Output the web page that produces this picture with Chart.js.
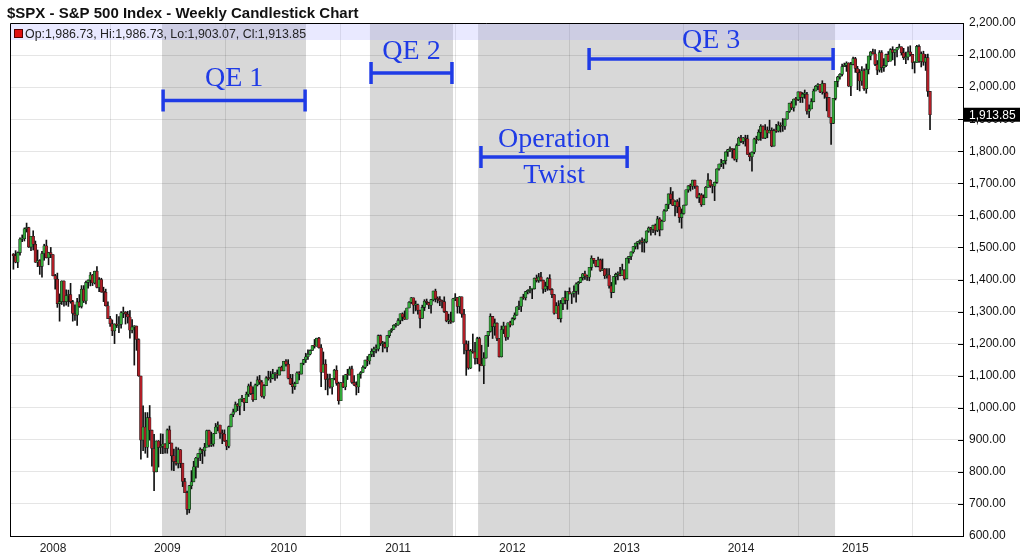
<!DOCTYPE html>
<html>
<head>
<meta charset="utf-8">
<script src="https://cdn.jsdelivr.net/npm/chart.js@4.4.1/dist/chart.umd.min.js"></script>
<style>
    html, body { margin: 0; padding: 0; background: #fff; }
    #contenedor { width: 1024px; height: 559px; position: relative; }
</style>
</head>
<body>
<div id="contenedor"><canvas id="chartSpx"></canvas></div>
<script>
// velas semanales $SPX, primera semana 2007-08-31, ultima 2015-08-28
const primeraApertura = 1479;

const cierres2007 = [1474,1454,1484,1526,1527,1558,1562,1501,1535,1510,1454,1459,1441,1481,1505,1468,1484,1478];
const maximos2007 = [1481,1490,1486,1530,1539,1561,1576,1563,1535,1552,1520,1492,1462,1488,1510,1523,1485,1500];
const minimos2007 = [1432,1452,1437,1476,1518,1520,1548,1500,1490,1492,1453,1440,1416,1407,1460,1467,1446,1468];

const cierres2008 = [1412,1401,1325,1331,1395,1331,1350,1353,1331,1294,1289,1330,1316,1370,1333,1391,1398,1414,1389,1426,1375,1400,1361,1360,1318,1278,1262,1240,1261,1257,1260,1296,1298,1292,1283,1242,1252,1255,1213,1099,899,940,877,969,930,873,800,896,876,880,887,873];
const maximos2008 = [1478,1416,1420,1355,1396,1396,1368,1367,1388,1335,1321,1341,1353,1381,1381,1395,1399,1422,1416,1426,1440,1406,1404,1376,1370,1330,1285,1274,1262,1291,1284,1300,1314,1300,1301,1303,1275,1256,1255,1215,1098,1006,985,985,1007,920,917,897,898,919,918,888];
const minimos2008 = [1411,1370,1313,1270,1322,1317,1320,1316,1326,1270,1272,1257,1313,1311,1328,1324,1373,1380,1381,1386,1374,1362,1360,1331,1317,1278,1254,1225,1200,1250,1234,1248,1281,1261,1264,1217,1233,1133,1179,1098,840,866,858,845,899,818,741,801,815,857,857,858];

const cierres2009 = [931,890,850,832,826,869,827,770,735,683,757,769,816,843,857,870,866,877,929,883,887,919,940,946,921,918,896,880,941,979,987,1010,1005,1027,1029,1016,1042,1068,1044,1025,1071,1087,1080,1036,1069,1093,1091,1092,1106,1106,1102,1126,1115];
const maximos2009 = [934,943,890,871,877,875,870,827,780,740,758,804,833,845,857,875,871,889,930,930,924,920,951,956,946,931,931,898,943,980,996,1018,1013,1027,1039,1028,1049,1074,1080,1065,1074,1097,1101,1085,1072,1097,1114,1113,1120,1110,1118,1127,1130];
const minimos2009 = [858,888,805,804,821,812,813,754,735,667,672,747,769,780,814,835,826,849,878,878,879,880,920,928,904,888,895,869,875,940,972,987,991,978,1019,991,1017,1035,1041,1020,1026,1068,1073,1033,1029,1069,1086,1079,1090,1085,1092,1105,1115];

const cierres2010 = [1145,1136,1092,1074,1066,1075,1109,1105,1139,1150,1159,1167,1179,1194,1192,1217,1187,1111,1136,1088,1089,1065,1092,1117,1076,1022,1078,1065,1103,1102,1121,1079,1071,1065,1105,1110,1126,1149,1146,1166,1176,1183,1183,1225,1200,1200,1189,1225,1240,1244,1257,1258];
const maximos2010 = [1145,1150,1150,1104,1104,1080,1112,1113,1139,1151,1170,1181,1181,1194,1213,1217,1220,1197,1174,1150,1105,1105,1092,1120,1131,1080,1079,1100,1104,1120,1128,1130,1100,1081,1105,1113,1131,1149,1160,1167,1184,1189,1196,1227,1227,1207,1205,1225,1240,1247,1259,1263];
const minimos2010 = [1116,1130,1090,1072,1045,1057,1075,1087,1105,1134,1141,1151,1165,1179,1186,1192,1186,1066,1126,1056,1040,1061,1042,1087,1070,1011,1023,1063,1056,1088,1106,1076,1069,1040,1047,1092,1110,1122,1131,1136,1159,1159,1171,1177,1194,1174,1186,1174,1219,1235,1244,1251];

const cierres2011 = [1272,1293,1283,1276,1311,1329,1343,1320,1321,1304,1279,1313,1332,1328,1320,1337,1364,1340,1338,1333,1331,1300,1271,1272,1268,1340,1344,1316,1346,1292,1199,1179,1124,1177,1174,1154,1216,1136,1131,1155,1225,1238,1285,1253,1264,1216,1159,1244,1255,1220,1265,1258];
const maximos2011 = [1278,1293,1296,1302,1311,1331,1344,1343,1333,1323,1305,1320,1337,1339,1329,1338,1364,1370,1346,1347,1336,1346,1301,1292,1298,1341,1356,1344,1347,1346,1307,1209,1208,1182,1230,1204,1220,1220,1195,1172,1225,1238,1293,1285,1277,1265,1208,1255,1267,1255,1265,1270];
const minimos2011 = [1257,1262,1271,1275,1276,1311,1325,1294,1302,1292,1249,1280,1303,1322,1309,1295,1333,1330,1327,1318,1311,1297,1268,1262,1263,1267,1334,1295,1295,1282,1168,1101,1120,1122,1170,1136,1137,1114,1131,1075,1156,1191,1236,1216,1226,1209,1158,1158,1231,1210,1213,1252];

const cierres2012 = [1278,1289,1315,1316,1345,1343,1362,1366,1370,1371,1404,1397,1408,1398,1370,1379,1403,1369,1353,1295,1318,1278,1325,1343,1335,1362,1355,1357,1363,1386,1391,1406,1418,1411,1407,1438,1466,1460,1441,1461,1428,1433,1412,1414,1380,1360,1409,1416,1418,1413,1430,1402];
const maximos2012 = [1281,1296,1315,1333,1345,1354,1363,1368,1379,1372,1405,1414,1419,1422,1395,1392,1406,1415,1372,1354,1328,1334,1335,1343,1364,1362,1374,1357,1380,1390,1394,1407,1419,1426,1414,1438,1474,1466,1460,1470,1464,1464,1434,1434,1434,1391,1409,1420,1424,1438,1448,1430];
const minimos2012 = [1259,1274,1288,1306,1300,1338,1336,1355,1358,1340,1370,1392,1391,1395,1357,1362,1366,1367,1343,1292,1296,1277,1267,1306,1324,1307,1355,1325,1345,1329,1354,1390,1398,1400,1397,1396,1429,1450,1439,1439,1425,1429,1403,1404,1373,1343,1359,1385,1399,1411,1416,1398];

const cierres2013 = [1466,1472,1486,1503,1513,1518,1520,1516,1518,1551,1561,1556,1569,1553,1589,1555,1582,1614,1634,1667,1650,1631,1643,1627,1593,1606,1632,1680,1692,1691,1710,1691,1656,1664,1633,1655,1688,1710,1692,1691,1703,1745,1760,1762,1771,1798,1805,1806,1805,1775,1818,1841];
const maximos2013 = [1467,1472,1486,1503,1514,1518,1524,1530,1526,1552,1564,1563,1570,1573,1597,1593,1585,1618,1635,1667,1687,1674,1646,1649,1654,1620,1632,1680,1693,1698,1710,1709,1692,1669,1668,1664,1690,1730,1711,1696,1704,1745,1760,1775,1771,1798,1806,1814,1808,1808,1823,1844];
const minimos2013 = [1402,1451,1462,1482,1495,1495,1510,1486,1485,1514,1547,1538,1546,1539,1549,1536,1555,1581,1613,1621,1636,1630,1598,1608,1578,1560,1604,1632,1672,1676,1681,1684,1654,1640,1628,1633,1655,1687,1687,1670,1646,1700,1741,1752,1746,1760,1784,1799,1779,1772,1767,1822];

const cierres2014 = [1831,1842,1839,1790,1783,1797,1838,1836,1859,1878,1841,1866,1857,1865,1816,1864,1863,1881,1878,1878,1900,1924,1950,1936,1963,1961,1985,1968,1978,1978,1925,1932,1955,1988,2003,2008,1985,2011,1982,1968,1906,1887,1965,2018,2032,2040,2064,2068,2075,2003,2071,2089];
const maximos2014 = [1850,1843,1850,1850,1795,1798,1841,1847,1867,1883,1879,1883,1876,1897,1873,1869,1884,1892,1889,1902,1901,1924,1950,1955,1963,1968,1985,1980,1983,1991,1984,1945,1964,1994,2005,2011,2008,2020,2007,1985,1968,1906,1965,2018,2034,2042,2072,2075,2079,2076,2077,2094];
const minimos2014 = [1827,1823,1816,1790,1770,1738,1792,1824,1834,1834,1840,1839,1842,1857,1814,1816,1859,1860,1860,1862,1868,1900,1921,1930,1925,1944,1958,1952,1952,1965,1916,1905,1932,1954,1989,1992,1983,1978,1965,1926,1906,1821,1886,1960,2001,2025,2035,2064,2049,2002,1973,2069];

const cierres2015 = [2058,2045,2019,2051,1995,2055,2097,2110,2104,2071,2053,2108,2061,2067,2102,2081,2117,2108,2116,2123,2126,2107,2092,2094,2110,2102,2077,2077,2127,2080,2104,2078,2092,1986.73,1913.85];
const maximos2015 = [2093,2065,2055,2064,2057,2072,2097,2111,2119,2117,2083,2114,2114,2089,2103,2111,2120,2126,2117,2124,2134,2126,2121,2109,2126,2129,2102,2078,2130,2132,2110,2112,2102,2103,1986.73];
const minimos2015 = [2046,1992,1988,2005,1990,1981,2041,2085,2103,2067,2039,2047,2046,2049,2064,2079,2094,2085,2068,2094,2122,2100,2086,2073,2085,2097,2057,2044,2080,2077,2063,2068,2052,1971,1867];

// eje x: indice de semana donde empieza cada año
const semanasAnio = [18, 70, 123, 175, 227, 279, 331, 383];
const etiquetasAnio = ['2008', '2009', '2010', '2011', '2012', '2013', '2014', '2015'];

// periodos sombreados (indice de semana inicio / fin)
const periodosQE = [[67.6, 133.1], [162.2, 200.0], [211.4, 373.8]];

// anotaciones: texto, semana inicio, semana fin, nivel de la barra, nivel del texto
const notasTexto = [['QE 1'], ['QE 2'], ['Operation', 'Twist'], ['QE 3']];
const notasDesde = [68.1, 162.7, 212.7, 261.9];
const notasHasta = [132.7, 199.5, 279.2, 372.9];
const notasNivel = [1958, 2044, 1782, 2088];
const notasNivelTexto = [[2026], [2110], [1835, 1723], [2145]];

const leyenda = 'Op:1,986.73, Hi:1,986.73, Lo:1,903.07, Cl:1,913.85';
const titulo = '$SPX - S&P 500 Index - Weekly Candlestick Chart';

const fuente = '"Liberation Sans", Arial, sans-serif';
const azul = '#1f3be6';
const verde = '#33a83a';
const rojo = '#b01e27';

const cierres = [].concat(cierres2007, cierres2008, cierres2009, cierres2010, cierres2011, cierres2012, cierres2013, cierres2014, cierres2015);
const maximos = [].concat(maximos2007, maximos2008, maximos2009, maximos2010, maximos2011, maximos2012, maximos2013, maximos2014, maximos2015);
const minimos = [].concat(minimos2007, minimos2008, minimos2009, minimos2010, minimos2011, minimos2012, minimos2013, minimos2014, minimos2015);

const velas = cierres.map((c, i) => {
    const o = i === 0 ? primeraApertura : cierres[i - 1];
    return {
        x: i, o: o, c: c,
        h: Math.max(maximos[i], o, c),
        l: Math.min(minimos[i], o, c)
    };
});

const formatoPrecio = v => v.toLocaleString('en-US', { minimumFractionDigits: 2, maximumFractionDigits: 2 });

const decoracion = {
    id: 'decoracion',
    beforeDraw(chart) {
        const { ctx, chartArea: a, scales: { x } } = chart;
        ctx.save();
        ctx.fillStyle = '#fff';
        ctx.fillRect(0, 0, chart.width, chart.height);
        ctx.fillStyle = '#d8d8d8';
        periodosQE.forEach(([d, h]) => {
            const x1 = x.getPixelForValue(d);
            const x2 = x.getPixelForValue(h);
            ctx.fillRect(x1, a.top, x2 - x1, a.bottom - a.top);
        });
        ctx.restore();
    },
    afterDraw(chart) {
        const { ctx, chartArea: a, scales: { x, y } } = chart;
        ctx.save();

        // franja de leyenda
        ctx.fillStyle = 'rgba(175,175,255,0.28)';
        ctx.fillRect(a.left, a.top, a.right - a.left, 17);

        // marco
        ctx.strokeStyle = '#000';
        ctx.lineWidth = 1;
        ctx.beginPath();
        ctx.moveTo(a.left + 0.5, a.bottom);
        ctx.lineTo(a.left + 0.5, a.top + 0.5);
        ctx.lineTo(a.right, a.top + 0.5);
        ctx.stroke();

        // marcas del eje derecho hacia dentro
        ctx.beginPath();
        for (let v = 600; v <= 2200; v += 100) {
            const py = Math.round(y.getPixelForValue(v)) + 0.5;
            ctx.moveTo(a.right - 5, py);
            ctx.lineTo(a.right, py);
        }
        ctx.stroke();

        // titulo
        ctx.fillStyle = '#111';
        ctx.font = 'bold 15px ' + fuente;
        ctx.textBaseline = 'alphabetic';
        ctx.fillText(titulo, 7, 18);

        // leyenda
        ctx.fillStyle = '#e01010';
        ctx.fillRect(14.5, 29.5, 8, 8);
        ctx.strokeStyle = '#500';
        ctx.strokeRect(14.5, 29.5, 8, 8);
        ctx.fillStyle = '#222';
        ctx.font = '12.4px ' + fuente;
        ctx.fillText(leyenda, 25, 37.5);

        // anotaciones QE
        ctx.strokeStyle = azul;
        ctx.fillStyle = azul;
        ctx.lineWidth = 3.5;
        ctx.textAlign = 'center';
        ctx.textBaseline = 'middle';
        ctx.font = '28px "Liberation Serif", "Times New Roman", serif';
        notasTexto.forEach((lineas, k) => {
            const x1 = x.getPixelForValue(notasDesde[k]);
            const x2 = x.getPixelForValue(notasHasta[k]);
            const py = y.getPixelForValue(notasNivel[k]);
            ctx.beginPath();
            ctx.moveTo(x1, py);
            ctx.lineTo(x2, py);
            ctx.moveTo(x1, py - 11);
            ctx.lineTo(x1, py + 11);
            ctx.moveTo(x2, py - 11);
            ctx.lineTo(x2, py + 11);
            ctx.stroke();
            lineas.forEach((t, j) => {
                ctx.fillText(t, (x1 + x2) / 2, y.getPixelForValue(notasNivelTexto[k][j]));
            });
        });

        // ultimo precio
        const ultimo = cierres[cierres.length - 1];
        const py = y.getPixelForValue(ultimo);
        ctx.fillStyle = '#000';
        ctx.fillRect(a.right + 1, py - 7, 56, 14);
        ctx.fillStyle = '#fff';
        ctx.textAlign = 'left';
        ctx.font = '12px ' + fuente;
        ctx.fillText(formatoPrecio(ultimo), a.right + 6, py + 0.5);

        ctx.restore();
    }
};

function renderizarGrafico() {
    const ctx = document.getElementById('chartSpx');

    new Chart(ctx, {
        type: 'bar',
        data: {
            datasets: [
                {
                    label: 'mechas',
                    data: velas.map(v => ({ x: v.x, y: [v.l, v.h] })),
                    backgroundColor: '#111',
                    barThickness: 1,
                    grouped: false,
                    order: 2
                },
                {
                    label: 'cuerpos',
                    data: velas.map(v => ({ x: v.x, y: [v.o, v.c] })),
                    backgroundColor: velas.map(v => v.c >= v.o ? verde : rojo),
                    borderColor: '#1a1a1a',
                    borderWidth: 0.6,
                    borderSkipped: false,
                    barThickness: 2.8,
                    minBarLength: 1,
                    grouped: false,
                    order: 1
                }
            ]
        },
        options: {
            responsive: true,
            maintainAspectRatio: false,
            animation: false,
            devicePixelRatio: 1,
            layout: { padding: { top: 23, left: 10, right: 0, bottom: 0 } },
            plugins: {
                legend: { display: false },
                tooltip: { enabled: false }
            },
            scales: {
                x: {
                    type: 'linear',
                    min: -1.55,
                    max: 432,
                    offset: false,
                    grid: { color: 'rgba(0,0,0,0.1)', drawTicks: false },
                    border: { display: true, color: '#000' },
                    ticks: {
                        autoSkip: false,
                        maxRotation: 0,
                        padding: 5,
                        color: '#222',
                        font: { family: fuente, size: 12 },
                        callback: v => {
                            const k = semanasAnio.indexOf(v);
                            return k >= 0 ? etiquetasAnio[k] : '';
                        }
                    },
                    afterBuildTicks: eje => { eje.ticks = semanasAnio.map(v => ({ value: v })); },
                    afterFit: eje => { eje.height = 23; }
                },
                y: {
                    type: 'linear',
                    position: 'right',
                    min: 600,
                    max: 2200,
                    grid: { color: 'rgba(0,0,0,0.1)', drawTicks: false },
                    border: { display: true, color: '#000' },
                    ticks: {
                        stepSize: 100,
                        padding: 6,
                        color: '#111',
                        font: { family: fuente, size: 12 },
                        callback: v => formatoPrecio(v)
                    },
                    afterFit: eje => { eje.width = 61; }
                }
            }
        },
        plugins: [decoracion]
    });
}

renderizarGrafico();
</script>
</body>
</html>
